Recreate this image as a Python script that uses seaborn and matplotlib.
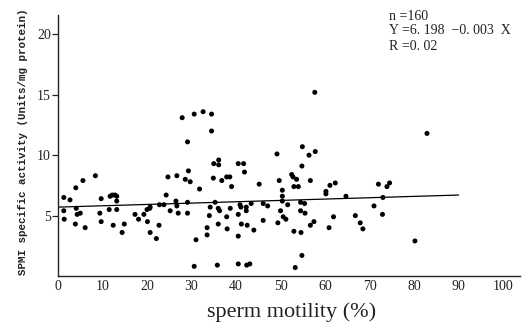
import matplotlib
matplotlib.use("Agg")
import matplotlib.pyplot as plt
import seaborn as sns
import pandas as pd

# sperm motility (%)
motility = [
    1.3, 1.3, 1.4, 2.7, 4.0, 5.6, 4.1, 4.3, 5.0, 3.9, 6.1, 8.4, 9.7, 9.4, 9.7,
    11.5, 11.7, 12.2, 12.8, 13.2, 13.2, 12.4, 13.2, 14.4, 14.9, 17.3, 18.1, 19.3,
    20.0, 20.1, 20.6, 20.7, 20.7, 22.1, 22.7, 22.8, 23.8, 24.3, 24.7, 25.2, 26.5,
    26.7, 26.7, 27.0, 28.6, 29.3, 29.1, 29.1, 29.7, 31.0, 31.8, 30.6, 33.5, 33.5,
    34.0, 34.2, 34.9, 35.0, 36.1, 36.1, 35.3, 35.8, 36.0, 36.0, 36.3, 36.8, 37.9,
    38.6, 37.9, 38.0, 38.7, 39.0, 40.5, 40.5, 41.7, 40.5, 40.5, 40.9, 41.1, 41.2,
    41.9, 42.3, 42.3, 42.5, 42.4, 43.1, 43.4, 44.0, 45.2, 46.1, 46.1,
    27.9, 29.1, 30.6, 32.6, 34.5, 34.5, 57.7, 82.9, 49.2, 54.9, 56.4, 57.8,
    54.8, 52.5, 52.8, 53.6, 49.7, 56.7, 53.0, 54.0, 50.4, 50.4, 50.4, 51.6, 47.1,
    54.5, 55.4, 50.0, 54.5, 55.5, 50.6, 51.2, 49.4, 57.5, 56.7, 53.0, 54.6, 54.8,
    53.3, 60.2, 60.2, 61.1, 62.3, 64.7, 61.9, 60.9, 66.8, 67.9, 68.5, 71.0, 72.0,
    73.0, 72.9, 73.9, 74.5, 80.2,
]
# SPMI specific activity (Units/mg protein)
activity = [
    6.5, 5.4, 4.7, 6.3, 7.3, 7.9, 5.6, 5.1, 5.2, 4.3, 4.0, 8.3, 6.4, 5.2, 4.5,
    5.5, 6.6, 6.7, 6.7, 6.6, 6.2, 4.2, 5.5, 3.6, 4.3, 5.1, 4.7, 5.1,
    5.5, 4.5, 5.6, 3.6, 5.7, 3.1, 4.2, 5.9, 5.9, 6.7, 8.2, 5.4, 6.2,
    8.3, 5.8, 5.2, 8.0, 8.7, 6.1, 5.2, 7.8, 3.0, 7.2, 0.8, 3.4, 4.0,
    5.0, 5.7, 8.1, 9.3, 9.6, 9.2, 6.1, 0.9, 4.3, 5.6, 5.4, 7.9, 8.2,
    8.2, 4.9, 3.9, 5.6, 7.4, 3.3, 9.3, 9.3, 1.0, 5.1, 5.9, 5.7, 4.3,
    8.6, 5.7, 5.4, 4.2, 0.9, 1.0, 6.0, 3.8, 7.6, 6.0, 4.6,
    13.1, 11.1, 13.4, 13.6, 13.4, 12.0, 15.2, 11.8, 10.1, 10.7, 10.0, 10.3,
    9.1, 8.4, 8.2, 8.0, 7.9, 7.9, 7.4, 7.4, 7.1, 6.6, 6.2, 5.9, 5.8,
    6.1, 6.0, 5.4, 5.4, 5.2, 4.9, 4.7, 4.4, 4.5, 4.2, 3.7, 3.6, 1.7,
    0.7, 7.0, 6.8, 7.5, 7.7, 6.6, 4.9, 4.0, 5.0, 4.4, 3.9, 5.8, 7.6,
    6.5, 5.1, 7.4, 7.7, 2.9,
]

# regression line as drawn
line_x = [0, 90]
line_y = [5.7, 6.7]

x_ticks = [0, 10, 20, 30, 40, 50, 60, 70, 80, 90, 100]
y_ticks = [5, 10, 15, 20]

stats_lines = ["n =160", "Y =6. 198  \u22120. 003  X", "R =0. 02"]

df = pd.DataFrame({"motility": motility, "activity": activity})
line_df = pd.DataFrame({"x": line_x, "y": line_y})

sns.set_style("ticks")
plt.rcParams["font.family"] = ["Liberation Serif", "DejaVu Serif"]

fig = plt.figure(figsize=(5.30, 3.23), dpi=100)
ax = fig.add_axes([58 / 530, 47 / 323, 462 / 530, 261 / 323])

sns.lineplot(data=line_df, x="x", y="y", ax=ax, color="black", linewidth=0.9)
sns.scatterplot(data=df, x="motility", y="activity", ax=ax, color="black",
                s=13, edgecolor="none", linewidth=0)

ax.set_xlim(0, 103.8)
ax.set_ylim(0, 21.6)
ax.set_xticks(x_ticks)
ax.set_xticklabels([str(t) for t in x_ticks])
ax.set_yticks(y_ticks)
ax.set_yticklabels([str(t) for t in y_ticks])
ax.tick_params(axis="x", length=0, pad=3, labelsize=10, colors="#222222")
ax.tick_params(axis="y", length=4, width=0.9, pad=1, labelsize=10,
               colors="#222222", direction="out")
for side in ["top", "right"]:
    ax.spines[side].set_visible(False)
for side in ["left", "bottom"]:
    ax.spines[side].set_linewidth(1.0)
    ax.spines[side].set_color("#222222")

ax.set_xlabel("")
ax.set_ylabel("")
fig.text(292 / 530, 1 - 312 / 323, "sperm motility (%)", ha="center",
         va="center", fontsize=16, color="#222222")
fig.text(23 / 530, 1 - 142 / 323, "SPMI specific activity (Units/mg protein)",
         ha="center", va="center", rotation=90, fontsize=7.8, weight="bold",
         family=["Liberation Mono", "DejaVu Sans Mono"], color="#222222")

for i, s in enumerate(stats_lines):
    fig.text(389 / 530, 1 - (16 + 15 * i) / 323, s, ha="left", va="center",
             fontsize=10, color="#222222")

fig.savefig("out.png", dpi=100, facecolor="white")
